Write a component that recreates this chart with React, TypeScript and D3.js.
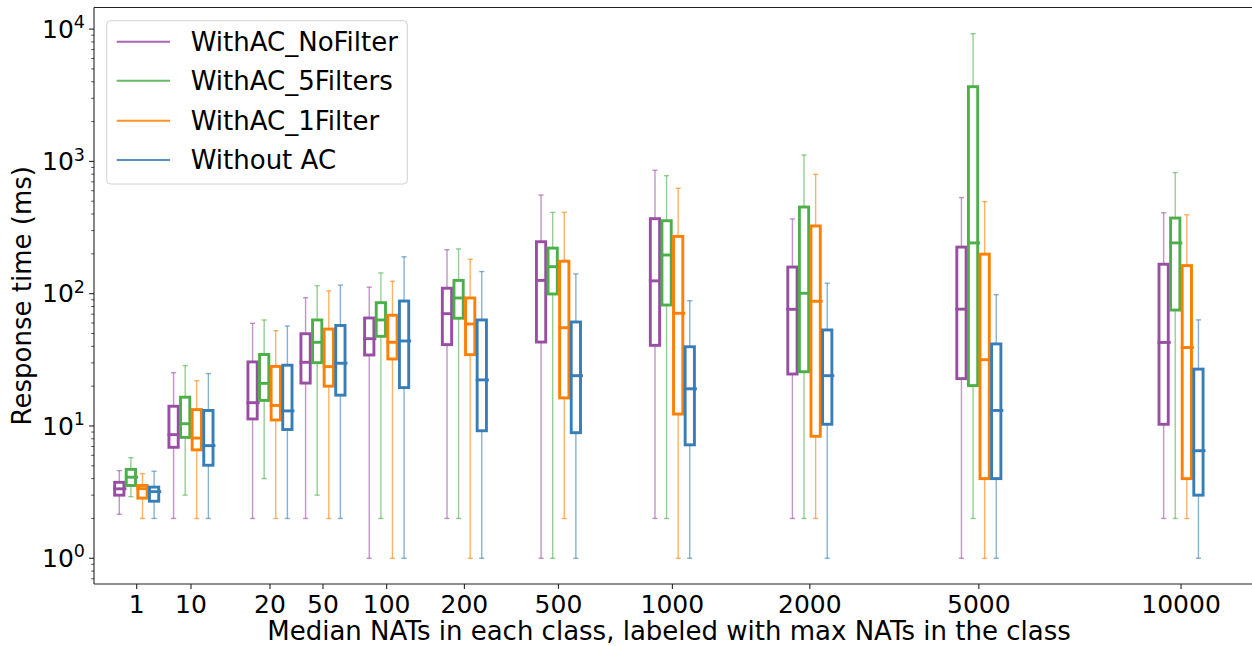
import React from 'react';
import * as d3 from 'd3';

// ---------------- data ----------------
const classLabels = ["1", "10", "20", "50", "100", "200", "500", "1000", "2000", "5000", "10000"];
// position of each class along the (linear) x axis, in axis units
const classPositions = [0.368, 0.836, 1.517, 1.974, 2.523, 3.193, 4.004, 4.986, 6.171, 7.628, 9.371];

const seriesNames = ["WithAC_NoFilter", "WithAC_5Filters", "WithAC_1Filter", "Without AC"];
const seriesColors = ["#984ea3", "#4daf4a", "#ff7f00", "#377eb8"];

// each entry: [whisker low, Q1, median, Q3, whisker high] in ms
const noFilterStats = [
  [2.15, 3.0, 3.35, 3.75, 4.6],
  [2, 6.9, 8.6, 14.1, 25.3],
  [2, 11.3, 15.0, 30.5, 59.7],
  [2, 21.1, 30.3, 49.8, 93.3],
  [1, 34.4, 45.7, 65.5, 112],
  [2, 41.2, 70.6, 110, 215],
  [1, 43.1, 126, 247, 557],
  [2, 40.7, 125, 369, 857],
  [2, 24.7, 76.2, 159, 367],
  [1, 22.8, 76.4, 225, 533],
  [2, 10.3, 42.8, 167, 409],
];
const fiveFiltersStats = [
  [2.92, 3.55, 4.1, 4.7, 5.76],
  [3, 8.2, 10.4, 16.5, 28.6],
  [4, 15.6, 21.0, 34.7, 63.3],
  [3, 30.1, 42.9, 63.3, 115],
  [2, 47.6, 63.3, 85.5, 143.5],
  [2, 65.2, 92.8, 126, 218],
  [1, 99.5, 160, 221, 412],
  [2, 82.1, 196, 356, 780],
  [2, 25.7, 100.7, 452, 1117],
  [2, 20.2, 242, 3670, 9230],
  [2, 75.2, 242, 373, 823],
];
const oneFilterStats = [
  [2, 2.85, 3.36, 3.55, 4.36],
  [2, 6.6, 8.1, 13.3, 22],
  [2, 11.1, 14.3, 28.2, 52.5],
  [2, 20, 28.1, 54, 105],
  [1, 32.1, 42.9, 68.7, 124],
  [1, 34.6, 59, 92.8, 182],
  [2, 16.3, 55.3, 176, 412],
  [1, 12.3, 71.1, 271, 626],
  [2, 8.36, 87.6, 325, 799],
  [1, 4.0, 31.7, 199, 496],
  [2, 4.0, 39.2, 163, 395],
];
const withoutACStats = [
  [2, 2.7, 3.19, 3.45, 4.55],
  [2, 5.05, 7.1, 13.1, 24.9],
  [2, 9.4, 13.0, 28.8, 57],
  [2, 17.1, 29.8, 57.5, 116],
  [1, 19.5, 43.9, 88, 190],
  [1, 9.2, 22.3, 63.3, 147],
  [1, 8.9, 24, 61.1, 141],
  [1, 7.2, 19.1, 39.7, 88.5],
  [1, 10.3, 24, 53.2, 120],
  [1, 4.0, 13.1, 41.7, 98.3],
  [1, 3.0, 6.5, 26.9, 63.4],
];
const allStats = [noFilterStats, fiveFiltersStats, oneFilterStats, withoutACStats];

const yMajorTicks = [1, 10, 100, 1000, 10000];

const xTitle = "Median NATs in each class, labeled with max NATs in the class";
const yTitle = "Response time (ms)";

// ---------------- layout ----------------
const W = 1252;
const H = 646;
const plot = { left: 94, top: 7.5, right: 1254, bottom: 584 };
const FONT = "DejaVu Sans, Verdana, sans-serif";

export default function App() {
  const x = d3.scaleLinear().domain([0, 10]).range([plot.left, plot.right]);
  const y = d3.scaleLog().domain([0.639, 14564]).range([plot.bottom, plot.top]);
  const unit = x(1) - x(0);
  const step = 0.1 * unit;
  const boxW = 0.08 * unit;
  const capHalf = 2.6;

  const minorTicks: number[] = [];
  for (let k = -1; k <= 4; k++) {
    for (let m = 2; m <= 9; m++) {
      const v = m * Math.pow(10, k);
      if (v >= y.domain()[0] && v <= y.domain()[1]) minorTicks.push(v);
    }
  }

  const boxes: JSX.Element[] = [];
  allStats.forEach((stats, si) => {
    const color = seriesColors[si];
    stats.forEach((s, ci) => {
      const [lo, q1, med, q3, hi] = s;
      const cx = x(classPositions[ci]) + (si - 1.5) * step;
      const x0 = cx - boxW / 2;
      const x1 = cx + boxW / 2;
      boxes.push(
        <g key={`b-${si}-${ci}`}>
          <g stroke={color} strokeOpacity={0.6} strokeWidth={1.4}>
            <line x1={cx} x2={cx} y1={y(q3)} y2={y(hi)} />
            <line x1={cx} x2={cx} y1={y(q1)} y2={y(lo)} />
            <line x1={cx - capHalf} x2={cx + capHalf} y1={y(hi)} y2={y(hi)} />
            <line x1={cx - capHalf} x2={cx + capHalf} y1={y(lo)} y2={y(lo)} />
          </g>
          <rect x={x0} y={y(q3)} width={boxW} height={y(q1) - y(q3)} fill="none" stroke={color} strokeWidth={2.9} />
          <line x1={x0 - 1.45} x2={x1 + 2.45} y1={y(med)} y2={y(med)} stroke={color} strokeWidth={2.9} />
        </g>
      );
    });
  });

  const legendLineY = [41.7, 80.7, 120.7, 160];

  return (
    <svg width={W} height={H} style={{ position: 'absolute', left: 0, top: 0, background: '#fff' }} fontFamily={FONT}>
      <rect x={0} y={0} width={W} height={H} fill="#fff" />
      {boxes}

      {/* spines */}
      <g stroke="#222" strokeWidth={1.1} fill="none">
        <line x1={plot.left} x2={plot.left} y1={plot.top} y2={plot.bottom} />
        <line x1={plot.left} x2={plot.right} y1={plot.bottom} y2={plot.bottom} />
        <line x1={plot.left} x2={plot.right} y1={plot.top} y2={plot.top} />
      </g>

      {/* y ticks */}
      {minorTicks.map((v) => (
        <line key={`mt-${v}`} x1={plot.left} x2={plot.left - 2.8} y1={y(v)} y2={y(v)} stroke="#222" strokeWidth={0.8} />
      ))}
      {yMajorTicks.map((v) => (
        <g key={`yt-${v}`}>
          <line x1={plot.left} x2={plot.left - 4.9} y1={y(v)} y2={y(v)} stroke="#222" strokeWidth={1.1} />
          <text x={85} y={y(v) + 8.7} textAnchor="end" fontSize={25} fill="#000">
            10<tspan dy={-9.5} fontSize={17.5}>{Math.round(Math.log10(v))}</tspan>
          </text>
        </g>
      ))}

      {/* x ticks */}
      {classLabels.map((lab, i) => (
        <g key={`xt-${lab}`}>
          <line x1={x(classPositions[i])} x2={x(classPositions[i])} y1={plot.bottom} y2={plot.bottom + 4.9} stroke="#222" strokeWidth={1.1} />
          <text x={x(classPositions[i])} y={613} textAnchor="middle" fontSize={25} fill="#000">{lab}</text>
        </g>
      ))}

      {/* axis titles */}
      <text x={669} y={640} textAnchor="middle" fontSize={26} fill="#000">{xTitle}</text>
      <text transform={`translate(31,${(plot.top + plot.bottom) / 2}) rotate(-90)`} textAnchor="middle" fontSize={26} fill="#000">{yTitle}</text>

      {/* legend */}
      <g>
        <rect x={106.7} y={20.7} width={300.6} height={163.3} rx={4} ry={4} fill="#fff" fillOpacity={0.8} stroke="#d0d0d0" strokeWidth={1} />
        {seriesNames.map((name, i) => (
          <g key={`lg-${name}`}>
            <line x1={116.7} x2={170} y1={legendLineY[i]} y2={legendLineY[i]} stroke={seriesColors[i]} strokeOpacity={0.85} strokeWidth={2} />
            <text x={190.7} y={legendLineY[i] + 9.3} fontSize={26} fill="#000">{name}</text>
          </g>
        ))}
      </g>
    </svg>
  );
}
